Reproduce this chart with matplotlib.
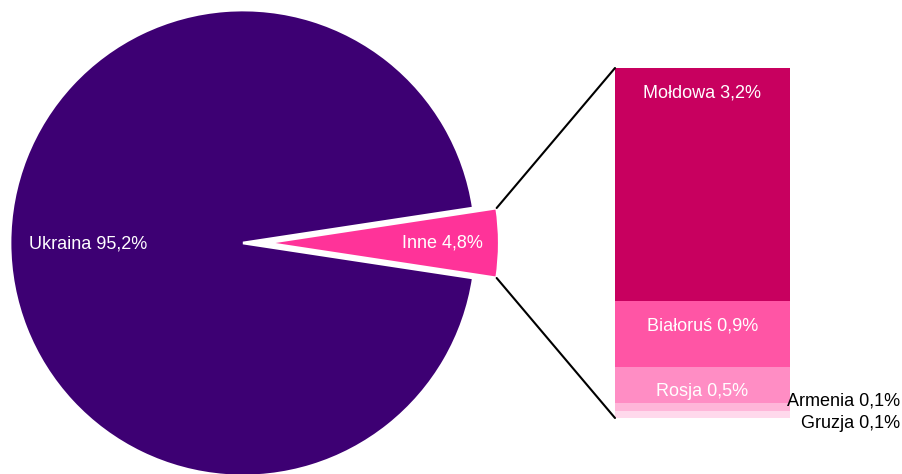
import numpy as np
import matplotlib.pyplot as plt
from matplotlib.patches import ConnectionPatch

plt.rcParams['font.family'] = ['Liberation Sans', 'DejaVu Sans']

# udział w pierwszym wykresie (kołowym)
pie_labels = ['Ukraina', 'Inne']
pie_values = [95.2, 4.8]
pie_colors = ['#3d0073', '#ff3399']

# rozbicie "Inne" (od góry do dołu)
bar_labels = ['Mołdowa', 'Białoruś', 'Rosja', 'Armenia', 'Gruzja']
bar_values = [3.2, 0.9, 0.5, 0.1, 0.1]
bar_colors = ['#c8005f', '#ff55a5', '#ff8dc4', '#ffb6d9', '#ffd9ec']

W, H = 903, 474
fig = plt.figure(figsize=(W / 100, H / 100), dpi=100)

# wykres kołowy w osi o współrzędnych pikselowych
ax = fig.add_axes([0, 0, 1, 1])

R = 233
cx, cy = 243, H - 243
inne_ang = pie_values[1] / sum(pie_values) * 360
# w matplotlib przesunięcie explode jest w jednostkach danych
wedges, _ = ax.pie(pie_values, radius=R, center=(cx, cy), colors=pie_colors,
                   startangle=inne_ang / 2, explode=[0, 0.1 * R],
                   wedgeprops=dict(edgecolor='white', linewidth=2), frame=True)
ax.set_xlim(0, W)
ax.set_ylim(0, H)
ax.set_aspect('auto')
ax.axis('off')

ax.text(88, H - 244, f'{pie_labels[0]} {pie_values[0]:.1f}%'.replace('.', ','),
        color='white', fontsize=13, ha='center', va='center')
ax.text(442, H - 243, f'{pie_labels[1]} {pie_values[1]:.1f}%'.replace('.', ','),
        color='white', fontsize=13, ha='center', va='center')

# słupek z rozbiciem
bx0, bx1, by0, by1 = 615, 790, H - 418, H - 68
axb = fig.add_axes([bx0 / W, by0 / H, (bx1 - bx0) / W, (by1 - by0) / H])
total = sum(bar_values)
top = total
for lab, val, col in zip(bar_labels, bar_values, bar_colors):
    bottom = top - val
    axb.bar(0, val, bottom=bottom, width=1, color=col, edgecolor='none')
    txt = f'{lab} {val:.1f}%'.replace('.', ',')
    if val >= 0.5:
        axb.annotate(txt, (0, top), xytext=(0, -25), textcoords='offset pixels',
                     color='white', fontsize=13, ha='center', va='center')
    top = bottom
axb.set_xlim(-0.5, 0.5)
axb.set_ylim(0, total)
axb.axis('off')

# etykiety małych segmentów poza słupkiem
axb.annotate(f'{bar_labels[3]} {bar_values[3]:.1f}%'.replace('.', ','),
             (0.5, bar_values[4] + bar_values[3] / 2), xytext=(110, 6),
             textcoords='offset pixels', fontsize=13, ha='right', va='center',
             annotation_clip=False)
axb.annotate(f'{bar_labels[4]} {bar_values[4]:.1f}%'.replace('.', ','),
             (0.5, bar_values[4] / 2), xytext=(110, -9),
             textcoords='offset pixels', fontsize=13, ha='right', va='center',
             annotation_clip=False)

# linie łączące klin "Inne" ze słupkiem
w = wedges[1]
ccx, ccy = w.center
for ang, ybar in [(w.theta2, total), (w.theta1, 0)]:
    px = ccx + R * np.cos(np.radians(ang))
    py = ccy + R * np.sin(np.radians(ang))
    con = ConnectionPatch(xyA=(-0.5, ybar), coordsA=axb.transData,
                          xyB=(px, py), coordsB=ax.transData,
                          color='black', linewidth=1.5)
    fig.add_artist(con)

fig.savefig('out.png', dpi=100)
